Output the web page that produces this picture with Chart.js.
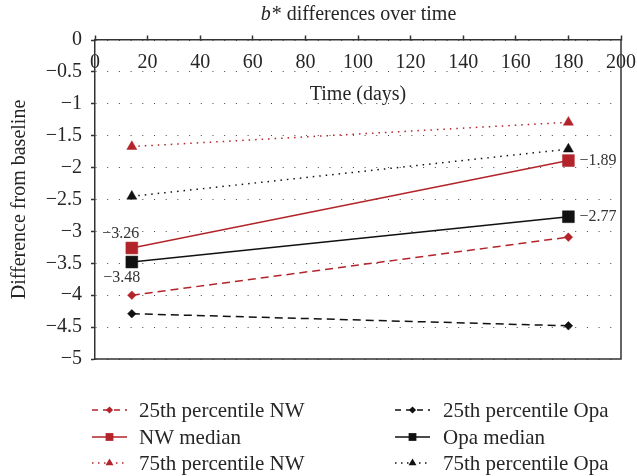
<!DOCTYPE html>
<html>
<head>
<meta charset="utf-8">
<script src="https://cdn.jsdelivr.net/npm/chart.js@4/dist/chart.umd.min.js"></script>
<style>
html,body{margin:0;padding:0;background:#fff;}
#c{display:block;}
</style>
</head>
<body>
<canvas id="c" width="637" height="476"></canvas>
<script>
// ---- data ----
const days = [14, 180];
const nw25 = [-4.00, -3.09];
const nwMedian = [-3.26, -1.89];
const nw75 = [-1.67, -1.29];
const opa25 = [-4.29, -4.48];
const opaMedian = [-3.48, -2.77];
const opa75 = [-2.45, -1.71];
const seriesNames = ['25th percentile NW', 'NW median', '75th percentile NW',
                     '25th percentile Opa', 'Opa median', '75th percentile Opa'];
const titleItalic = 'b';
const titleRest = '* differences over time';
const xTitle = 'Time (days)';
const yTitle = 'Difference from baseline';

const FONT = "'Liberation Serif', 'Times New Roman', serif";
const RED = '#b3242a';
const BLK = '#111111';
const TXT = '#262626';

function pts(vals){ return days.map((d,i)=>({x:d, y:vals[i]})); }
function minus(s){ return String(s).replace('-', '\u2212'); }

const dashed = [8,5], dotted = [1.5,5];
const datasets = [
  {label: seriesNames[0], data: pts(nw25), borderColor: RED, backgroundColor: RED, borderDash: dashed, pointStyle:'rectRot', pointRadius:4.3, lgR:3.6},
  {label: seriesNames[1], data: pts(nwMedian), borderColor: RED, backgroundColor: RED, borderDash: [], pointStyle:'rect', pointRadius:8.4, lgR:5.5, valueLabels:[{pos:'above'},{pos:'right'}]},
  {label: seriesNames[2], data: pts(nw75), borderColor: RED, backgroundColor: RED, borderDash: dotted, pointStyle:'triangle', pointRadius:5.8, lgR:4.6},
  {label: seriesNames[3], data: pts(opa25), borderColor: BLK, backgroundColor: BLK, borderDash: dashed, pointStyle:'rectRot', pointRadius:4.3, lgR:3.6},
  {label: seriesNames[4], data: pts(opaMedian), borderColor: BLK, backgroundColor: BLK, borderDash: [], pointStyle:'rect', pointRadius:8.4, lgR:5.5, valueLabels:[{pos:'below'},{pos:'right'}]},
  {label: seriesNames[5], data: pts(opa75), borderColor: BLK, backgroundColor: BLK, borderDash: dotted, pointStyle:'triangle', pointRadius:5.8, lgR:4.6}
].map(d => Object.assign({borderWidth:1.5, pointBorderWidth:0.5, pointBorderColor:d.borderColor, fill:false, tension:0}, d));

const titlePlugin = {
  id: 'titleP',
  afterDraw(chart){
    const ctx = chart.ctx, ca = chart.chartArea;
    ctx.save();
    ctx.fillStyle = TXT;
    ctx.textBaseline = 'middle';
    const fi = 'italic 20px ' + FONT, fn = '20px ' + FONT;
    ctx.font = fi; const w1 = ctx.measureText(titleItalic).width;
    ctx.font = fn; const w2 = ctx.measureText(titleRest).width;
    const cx = (ca.left + ca.right)/2;
    let x = cx - (w1 + w2)/2;
    ctx.textAlign = 'left';
    ctx.font = fi; ctx.fillText(titleItalic, x, 15);
    ctx.font = fn; ctx.fillText(titleRest, x + w1 + 1, 15);
    ctx.restore();
  }
};

const framePlugin = {
  id: 'frameP',
  afterDatasetsDraw(chart){
    const ctx = chart.ctx, ca = chart.chartArea;
    ctx.save();
    ctx.strokeStyle = '#333';
    ctx.lineWidth = 1.5;
    ctx.beginPath();
    ctx.moveTo(ca.left, ca.bottom); ctx.lineTo(ca.right, ca.bottom); ctx.lineTo(ca.right, ca.top);
    ctx.stroke();
    ctx.restore();
  }
};

const valuePlugin = {
  id: 'valueP',
  afterDatasetsDraw(chart){
    const ctx = chart.ctx;
    ctx.save();
    ctx.font = '16px ' + FONT;
    ctx.fillStyle = '#333';
    chart.data.datasets.forEach((ds, di) => {
      if (!ds.valueLabels) return;
      const meta = chart.getDatasetMeta(di);
      ds.valueLabels.forEach((vl, i) => {
        const p = meta.data[i];
        const txt = minus(ds.data[i].y.toFixed(2));
        if (vl.pos === 'above') {
          ctx.textAlign = 'center'; ctx.textBaseline = 'bottom';
          ctx.fillText(txt, p.x - 11, p.y - 6);
        } else if (vl.pos === 'below') {
          ctx.textAlign = 'center'; ctx.textBaseline = 'top';
          ctx.fillText(txt, p.x - 10, p.y + 8);
        } else {
          ctx.textAlign = 'left'; ctx.textBaseline = 'middle';
          ctx.fillText(txt, p.x + 11, p.y);
        }
      });
    });
    ctx.restore();
  }
};

const legendPlugin = {
  id: 'legendP',
  afterDraw(chart){
    const ctx = chart.ctx;
    const rows = [410, 437, 463];
    const cols = [{x0:92, x1:127, t:139}, {x0:395, x1:430, t:443}];
    ctx.save();
    chart.data.datasets.forEach((ds, i) => {
      const col = cols[Math.floor(i/3)], y = rows[i%3];
      ctx.strokeStyle = ds.borderColor;
      ctx.lineWidth = 1.5;
      ctx.setLineDash(ds.borderDash.length ? (ds.borderDash === dotted ? [1.5,4.5] : [6,5]) : []);
      ctx.beginPath(); ctx.moveTo(col.x0, y); ctx.lineTo(col.x1, y); ctx.stroke();
      ctx.setLineDash([]);
      ctx.fillStyle = ds.backgroundColor;
      Chart.helpers.drawPoint(ctx, {pointStyle: ds.pointStyle, rotation: 0, radius: ds.lgR, borderWidth: 0}, (col.x0+col.x1)/2, y);
      ctx.fillStyle = TXT;
      ctx.font = '21px ' + FONT;
      ctx.textAlign = 'left'; ctx.textBaseline = 'middle';
      ctx.fillText(ds.label, col.t, y + 1);
    });
    ctx.restore();
  }
};

new Chart(document.getElementById('c'), {
  type: 'line',
  data: { datasets },
  plugins: [titlePlugin, framePlugin, valuePlugin, legendPlugin],
  options: {
    responsive: false,
    animation: false,
    events: [],
    layout: { padding: { top: 40, right: 16, bottom: 117, left: 0 } },
    plugins: { legend: { display: false }, title: { display: false }, tooltip: { enabled: false } },
    scales: {
      x: {
        type: 'linear',
        position: { y: 0 },
        min: 0, max: 200,
        afterFit(scale){ scale.paddingLeft = 0; scale.paddingRight = 0; },
        ticks: { stepSize: 20, font: { family: FONT, size: 20 }, color: TXT, padding: 16, maxRotation: 0, autoSkip: false },
        grid: { drawOnChartArea: false, drawTicks: true, tickLength: -5, tickColor: '#333', tickWidth: 1.5 },
        border: { display: true, color: '#333', width: 1.5 },
        title: { display: true, text: xTitle, font: { family: FONT, size: 20 }, color: TXT, padding: { top: -8, bottom: 0 } }
      },
      y: {
        type: 'linear',
        min: -5, max: 0,
        afterFit(scale){ scale.width = 95; },
        ticks: { stepSize: 0.5, font: { family: FONT, size: 20 }, color: TXT, padding: 9,
                 callback: v => minus(Number(v.toFixed(1))) },
        grid: { color: '#444', lineWidth: 1, tickLength: 4, tickColor: '#333', tickWidth: 1.5, tickBorderDash: [] },
        border: { display: true, color: '#333', width: 1.5, dash: [1, 10.7] },
        title: { display: true, text: yTitle, font: { family: FONT, size: 20 }, color: TXT, padding: { top: 8, bottom: 0 } }
      }
    }
  }
});
</script>
</body>
</html>
